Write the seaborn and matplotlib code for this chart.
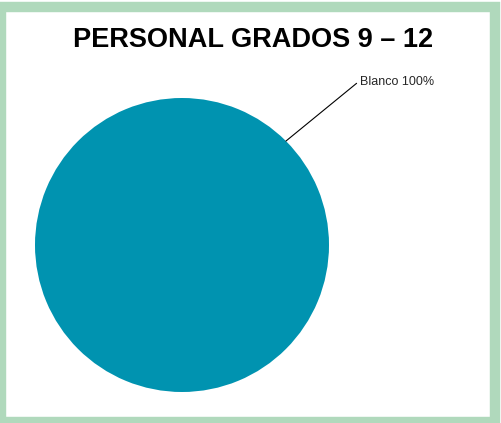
import matplotlib
matplotlib.use("Agg")
import matplotlib.pyplot as plt
import seaborn as sns
import numpy as np
from matplotlib.patches import Rectangle

categories = ["Blanco"]
values = [100]
colors = ["#0093b0"]

sns.set_theme(style="white")
plt.rcParams['font.family'] = ['Liberation Sans', 'DejaVu Sans']

W, H = 501, 423
fig = plt.figure(figsize=(W / 100, H / 100), dpi=100)
fig.patch.set_facecolor("white")

# green frame
fig.patches.append(Rectangle((1 / W, 1 / H), (W - 7) / W, (H - 8) / H,
                             transform=fig.transFigure, fill=False,
                             edgecolor="#b0d9bc", linewidth=7.5, zorder=0))

fig.text(253 / W, 1 - 40 / H, "PERSONAL GRADOS 9 – 12", ha="center", va="center",
         fontsize=19.5, fontweight="bold", color="black")

ax = fig.add_axes([35 / W, (H - 392) / H, 294 / W, 294 / H])
ax.pie(values, colors=colors, startangle=90, radius=1,
       wedgeprops=dict(linewidth=0))
ax.set_xlim(-1, 1)
ax.set_ylim(-1, 1)
ax.set_aspect("equal")
ax.axis("off")

ang = np.deg2rad(45)
for cat, v in zip(categories, values):
    ax.annotate(f"{cat} {v}%", xy=(np.cos(ang), np.sin(ang)), xytext=(1.21, 1.11),
                textcoords="data", ha="left", va="center", fontsize=9,
                annotation_clip=False,
                arrowprops=dict(arrowstyle="-", color="black", lw=0.8,
                                shrinkA=0, shrinkB=0, relpos=(0, 0.6)))

fig.savefig("out.png", dpi=100)
